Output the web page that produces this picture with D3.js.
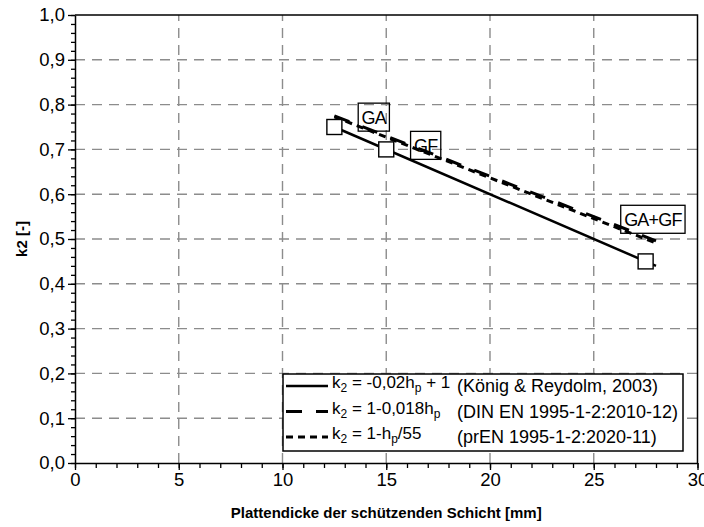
<!DOCTYPE html>
<html>
<head>
<meta charset="utf-8">
<script src="https://cdn.jsdelivr.net/npm/d3@7"></script>
<style>
  html, body { margin: 0; padding: 0; background: #fff; }
  svg { display: block; font-family: "Liberation Sans", Arial, sans-serif; }
</style>
</head>
<body>
<svg id="chart" width="704" height="527"></svg>
<script>
// Axis ranges and ticks
const xDomain = [0, 30];
const yDomain = [0, 1];
const xTicks = [0, 5, 10, 15, 20, 25, 30];
const yTicks = [0, 0.1, 0.2, 0.3, 0.4, 0.5, 0.6, 0.7, 0.8, 0.9, 1.0];

// Range of plate thickness covered by the design formulas [mm]
const hRange = [12.5, 28];

// Formulas for k2 as a function of the plate thickness hp
const formulas = [
  { id: "koenig", k: h => -0.02 * h + 1 },
  { id: "din",    k: h => 1 - 0.018 * h },
  { id: "pren",   k: h => 1 - h / 55 }
];

// Test results: board type, thickness [mm], k2 [-]
const testBoards = ["GA", "GF", "GA+GF"];
const testThickness = [12.5, 15, 27.5];
const testK2 = [0.75, 0.70, 0.45];

// Board-type labels (centre in data units)
const labelText = ["GA", "GF", "GA+GF"];
const labelX = [14.4, 16.9, 27.85];
const labelY = [0.772, 0.709, 0.544];

// Legend entries: formula part, source part
const legendFormula = [
  [["k"], ["2", "sub"], [" = -0,02h"], ["p", "sub"], [" + 1"]],
  [["k"], ["2", "sub"], [" = 1-0,018h"], ["p", "sub"]],
  [["k"], ["2", "sub"], [" = 1-h"], ["p", "sub"], ["/55"]]
];
const legendSource = ["(König & Reydolm, 2003)", "(DIN EN 1995-1-2:2010-12)", "(prEN 1995-1-2:2020-11)"];

const xTitle = "Plattendicke der schützenden Schicht [mm]";
const yTitle = "k2 [-]";

const styles = {
  koenig: { dash: null,    width: 2.5 },
  din:    { dash: "16,14", width: 3 },
  pren:   { dash: "7,5",   width: 3 }
};

const svg = d3.select("#chart");
const m = { left: 75, right: 6.5, top: 15, bottom: 64 };
const W = 704, H = 527;
const x = d3.scaleLinear().domain(xDomain).range([m.left, W - m.right]);
const y = d3.scaleLinear().domain(yDomain).range([H - m.bottom, m.top]);

const fmt = d => d3.format(".1f")(d).replace(".", ",");

// Grid lines
const grid = svg.append("g").attr("stroke", "#8c8c8c").attr("stroke-width", 1.4)
  .attr("stroke-dasharray", "10,7");
grid.selectAll("line.v").data(xTicks.slice(1, -1)).join("line")
  .attr("x1", d => x(d)).attr("x2", d => x(d))
  .attr("y1", y(0)).attr("y2", y(1));
grid.selectAll("line.h").data(yTicks.slice(1, -1)).join("line")
  .attr("x1", x(0)).attr("x2", x(30))
  .attr("y1", d => y(d)).attr("y2", d => y(d));

// Frame (top and right)
svg.append("path")
  .attr("d", `M${x(0)},${y(1)}H${x(30)}V${y(0)}`)
  .attr("fill", "none").attr("stroke", "#000").attr("stroke-width", 1.5);

// Axes with major and minor ticks
function styleAxis(g) {
  g.select(".domain").attr("stroke", "#000").attr("stroke-width", 1.5);
  g.selectAll(".tick line").attr("stroke", "#000").attr("stroke-width", 1.3);
  g.selectAll("text").attr("fill", "#000").attr("font-size", 18.5)
    .attr("font-family", "'Liberation Sans', Arial, sans-serif");
}
const xMinor = d3.range(0, 30.001, 1);
const yMinor = d3.range(0, 1.0001, 0.02);
svg.append("g").attr("transform", `translate(0,${y(0)})`)
  .call(d3.axisBottom(x).tickValues(xMinor).tickSize(5).tickFormat(""))
  .call(g => { g.select(".domain").remove(); g.selectAll(".tick line").attr("stroke", "#000").attr("stroke-width", 1.3); });
svg.append("g").attr("transform", `translate(${x(0)},0)`)
  .call(d3.axisLeft(y).tickValues(yMinor).tickSize(4).tickFormat(""))
  .call(g => { g.select(".domain").remove(); g.selectAll(".tick line").attr("stroke", "#000").attr("stroke-width", 1.3); });
svg.append("g").attr("transform", `translate(0,${y(0)})`)
  .call(d3.axisBottom(x).tickValues(xTicks).tickSize(7).tickSizeOuter(0).tickPadding(3).tickFormat(d3.format("d")))
  .call(styleAxis);
svg.append("g").attr("transform", `translate(${x(0)},0)`)
  .call(d3.axisLeft(y).tickValues(yTicks).tickSize(7).tickSizeOuter(0).tickPadding(3).tickFormat(fmt))
  .call(styleAxis);

// Axis titles
svg.append("text").attr("x", x(15)).attr("y", 518).attr("text-anchor", "middle")
  .attr("font-weight", "bold").attr("font-size", 15).text(xTitle);
svg.append("text").attr("transform", `translate(27,${y(0.5)}) rotate(-90)`)
  .attr("text-anchor", "middle").attr("font-weight", "bold").attr("font-size", 15).text(yTitle);

// Board-type labels with boxes
const lab = svg.append("g");
labelText.forEach((t, i) => {
  const g = lab.append("g");
  const tx = g.append("text").attr("x", x(labelX[i])).attr("y", y(labelY[i]) + 6.5)
    .attr("text-anchor", "middle").attr("font-size", 18).attr("letter-spacing", -0.8).text(t);
  const bb = tx.node().getBBox();
  g.insert("rect", "text")
    .attr("x", x(labelX[i]) - bb.width / 2 - 3).attr("y", y(labelY[i]) - 14)
    .attr("width", bb.width + 6).attr("height", 28)
    .attr("fill", "none").attr("stroke", "#000").attr("stroke-width", 1.3);
});

// Formula lines
const lineGen = d3.line().x(d => x(d[0])).y(d => y(d[1]));
formulas.forEach(f => {
  const pts = hRange.map(h => [h, f.k(h)]);
  svg.append("path").datum(pts).attr("d", lineGen)
    .attr("fill", "none").attr("stroke", "#000")
    .attr("stroke-width", styles[f.id].width)
    .attr("stroke-dasharray", styles[f.id].dash);
});

// Test result markers
svg.append("g").selectAll("rect").data(testBoards).join("rect")
  .attr("x", (d, i) => x(testThickness[i]) - 7.5)
  .attr("y", (d, i) => y(testK2[i]) - 7.5)
  .attr("width", 15).attr("height", 15)
  .attr("fill", "#fff").attr("stroke", "#000").attr("stroke-width", 1.4);

// Legend
const leg = svg.append("g");
leg.append("rect").attr("x", 283).attr("y", 374).attr("width", 400).attr("height", 77)
  .attr("fill", "#fff").attr("stroke", "#000").attr("stroke-width", 1.5);
formulas.forEach((f, i) => {
  const cy = 386 + i * 25.5;
  leg.append("line").attr("x1", 286).attr("x2", 328).attr("y1", cy).attr("y2", cy)
    .attr("stroke", "#000").attr("stroke-width", styles[f.id].width)
    .attr("stroke-dasharray", styles[f.id].dash);
  const t = leg.append("text").attr("x", 332).attr("y", cy + 6).attr("font-size", 17);
  legendFormula[i].forEach(([s, kind]) => {
    if (kind === "sub") {
      t.append("tspan").attr("font-size", 12).attr("dy", 4).text(s);
    } else {
      t.append("tspan").attr("dy", t.selectAll("tspan").size() ? -4 : 0).text(s);
    }
  });
  leg.append("text").attr("x", 457).attr("y", cy + 6).attr("font-size", 18).text(legendSource[i]);
});
</script>
</body>
</html>
